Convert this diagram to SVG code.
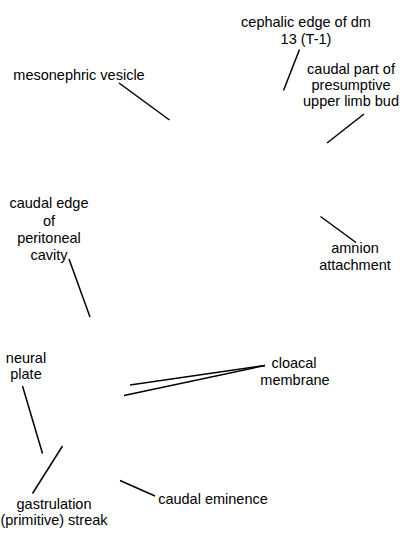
<svg xmlns="http://www.w3.org/2000/svg" width="400" height="550" viewBox="0 0 400 550">
<style>
text{font-family:"Liberation Sans",Arial,sans-serif;font-size:14.5px;fill:#000;text-anchor:middle}
line{stroke:#000;stroke-width:1.5}
</style>
<rect width="400" height="550" fill="#fff"/>
<g id="connectors">
<line x1="299.5" y1="49.5" x2="283.5" y2="90.5"/>
<line x1="364" y1="114" x2="327" y2="143"/>
<line x1="119" y1="83" x2="169.5" y2="120"/>
<line x1="69" y1="259" x2="90" y2="317"/>
<line x1="320.5" y1="216.5" x2="356" y2="242.5"/>
<line x1="22.5" y1="386" x2="42.5" y2="453.5"/>
<line x1="62.5" y1="446" x2="32.5" y2="493.5"/>
<line x1="120" y1="480.5" x2="155" y2="496"/>
<line x1="130" y1="385" x2="265" y2="365.5"/>
<line x1="124" y1="395.5" x2="265" y2="365.5"/>
</g>
<g id="cephalic-edge"><text x="306" y="27">cephalic edge of dm</text><text x="306" y="44">13 (T-1)</text></g>
<g id="caudal-part"><text x="351" y="74">caudal part of</text><text x="351" y="90">presumptive</text><text x="351" y="106">upper limb bud</text></g>
<g id="mesonephric-vesicle"><text x="79" y="80">mesonephric vesicle</text></g>
<g id="caudal-edge"><text x="49" y="208">caudal edge</text><text x="49" y="225.5">of</text><text x="49" y="243">peritoneal</text><text x="49" y="259.5">cavity</text></g>
<g id="amnion-attachment"><text x="355" y="253">amnion</text><text x="355" y="269.5">attachment</text></g>
<g id="neural-plate"><text x="26" y="362.5">neural</text><text x="26" y="378.5">plate</text></g>
<g id="cloacal-membrane"><text x="294" y="368">cloacal</text><text x="295" y="384.5">membrane</text></g>
<g id="gastrulation-streak"><text x="54" y="508.5">gastrulation</text><text x="54" y="525">(primitive) streak</text></g>
<g id="caudal-eminence"><text x="213" y="503.5">caudal eminence</text></g>
</svg>
